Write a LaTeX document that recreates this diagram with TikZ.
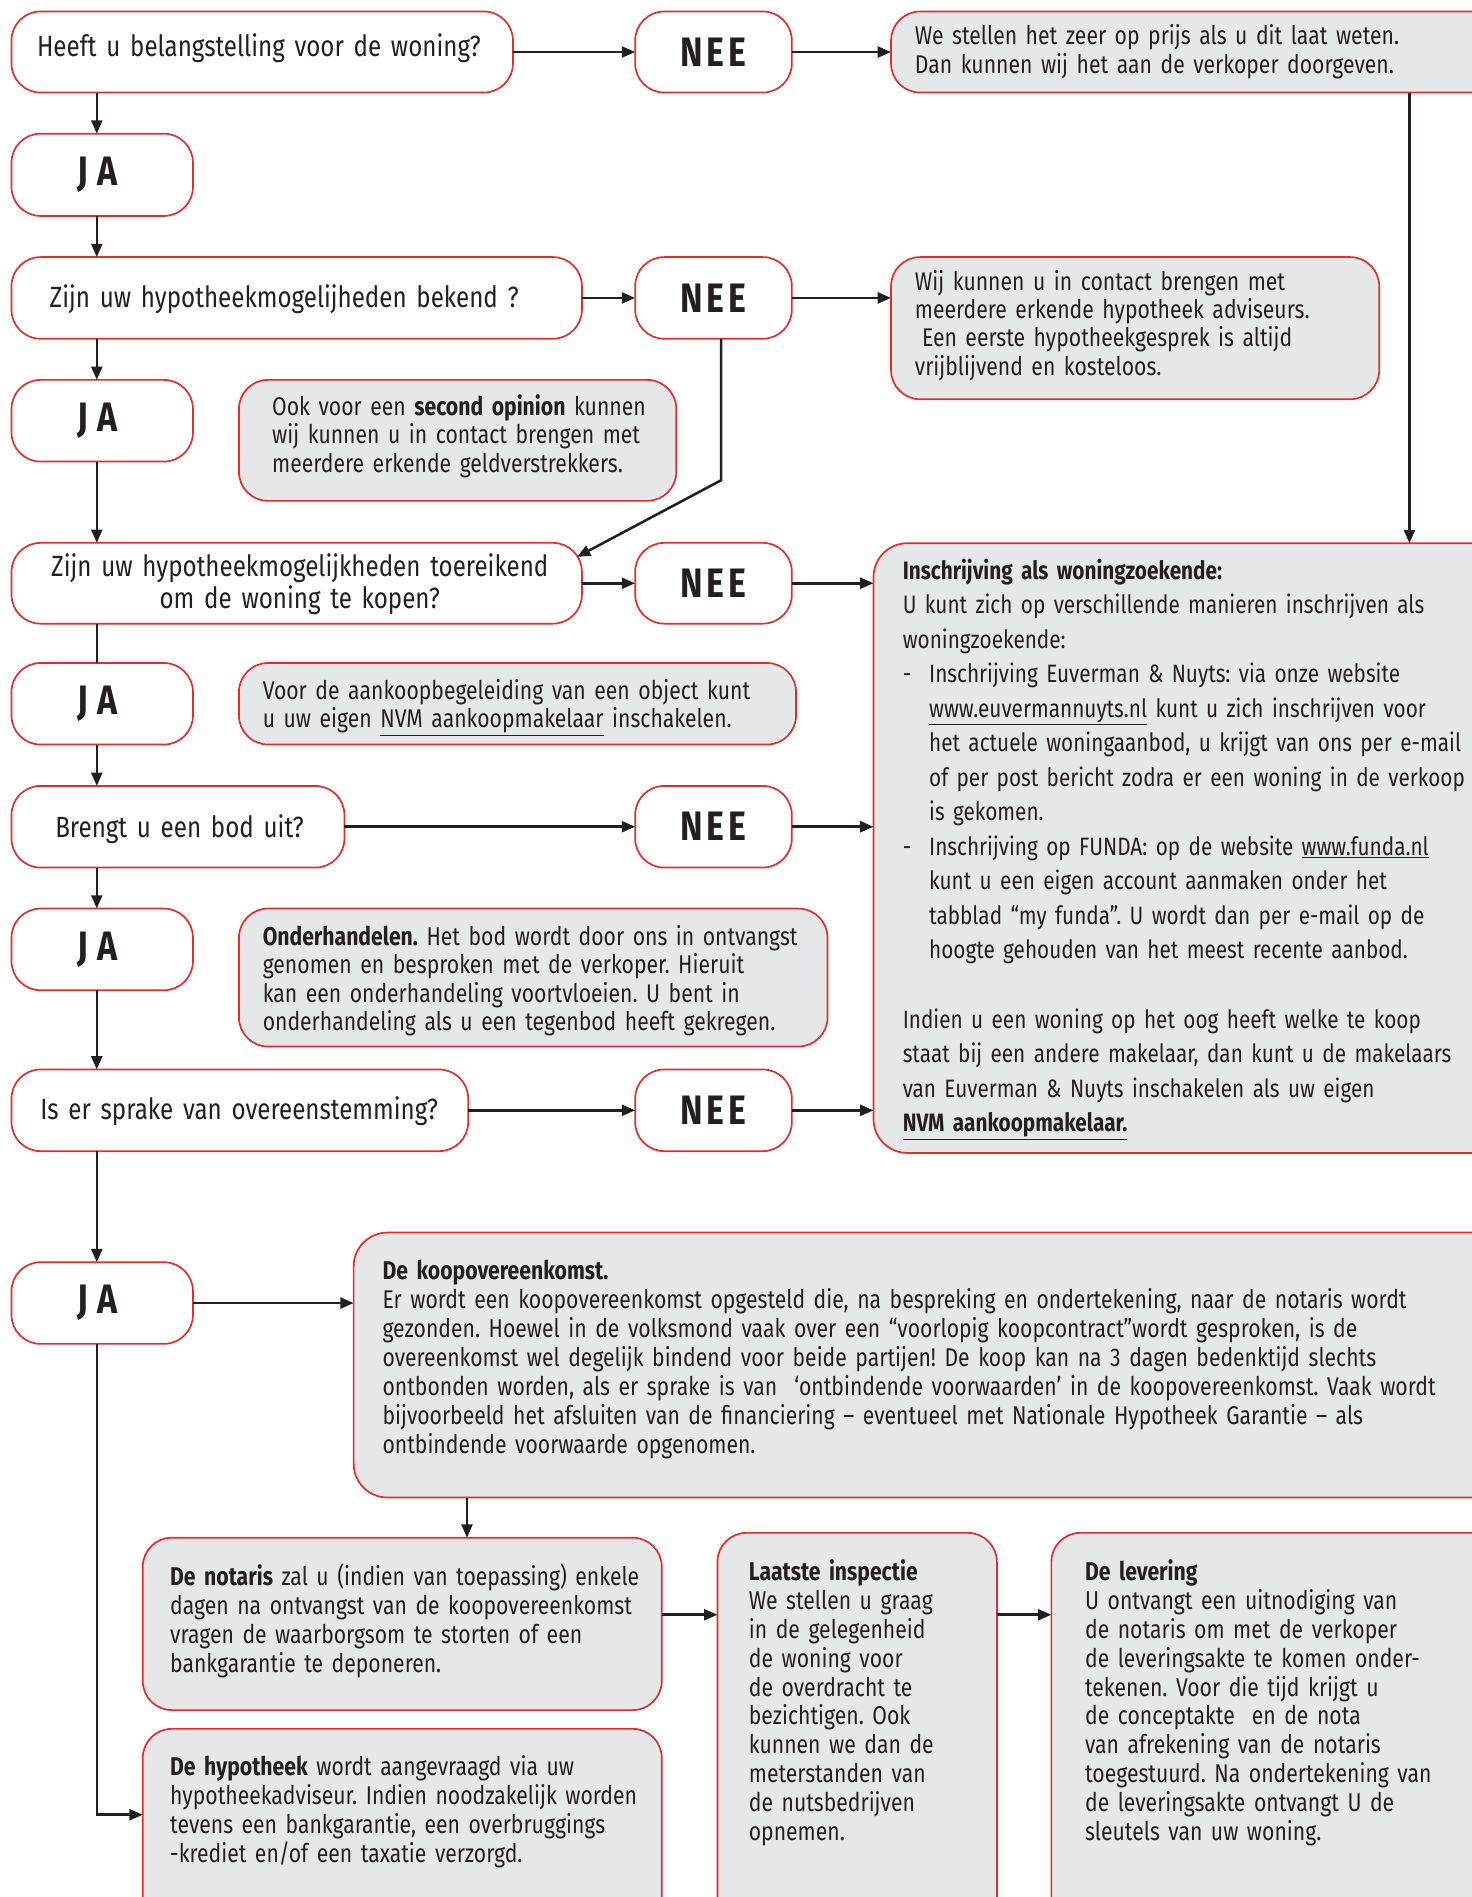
\documentclass[tikz,border=0pt]{standalone}
\usepackage{fontspec}
\setmainfont{Fira Sans}[FakeStretch=0.825]
\frenchspacing
\usetikzlibrary{arrows.meta}
\definecolor{rood}{HTML}{E42D2A}
\definecolor{grijs}{HTML}{E6E7E8}
\definecolor{ink}{HTML}{231F20}
\newcommand{\bodyfont}[1]{\fontsize{21.2}{#1}\selectfont\spaceskip=3.6pt plus 1pt minus 1pt\relax}
\newcommand{\insfont}{\fontsize{20.8}{28.55}\selectfont\spaceskip=3.4pt plus 1pt minus 1pt\relax}
\newcommand{\quesfont}{\fontsize{24.2}{26.2}\selectfont\spaceskip=4.3pt plus 1pt minus 1pt\relax}
\tikzset{
  box/.style={draw=rood, line width=1.4pt, rounded corners=24pt, anchor=north west, inner sep=0pt, outer sep=0pt},
  wbox/.style={box, fill=white},
  gbox/.style={box, fill=grijs},
  arr/.style={draw=ink, line width=2.1pt, -{Triangle[length=11pt,width=9pt]}},
  ln/.style={draw=ink, line width=2.1pt},
  body/.style={anchor=base west, inner sep=0pt, text width=1000pt, align=left, text=ink, font={\bodyfont{23.9}}},
  ques/.style={anchor=base west, inner sep=0pt, text width=1000pt, align=left, text=ink, font={\quesfont}},
  yn/.style={text=ink, font={\fontsize{34}{34}\selectfont\bfseries}, inner sep=0pt}
}
\newcommand{\NEEtxt}{N\kern3pt E\kern3pt E}
\newcommand{\JAtxt}{J\kern8pt A}
\begin{document}
\begin{tikzpicture}[x=1pt,y=-1pt]
\useasboundingbox (0,0) rectangle (1216.7,1568);
\clip (0,0) rectangle (1216.7,1568);
\coordinate (spine) at (80,0);
% ---------- boxes ----------
\node[wbox, minimum width=414.5, minimum height=67] (q1) at (9.5,9.5) {};
\node[wbox, minimum width=129.5, minimum height=67] (nee1) at (525,9.5) {};
\node[gbox, minimum width=520, minimum height=67] (i1) at (736.5,9.5) {};
\node[wbox, minimum width=150, minimum height=68] (ja1) at (9.5,110.5) {};
\node[wbox, minimum width=471.5, minimum height=67.5] (q2) at (9.5,212.5) {};
\node[wbox, minimum width=129.5, minimum height=67.5] (nee2) at (525,212.5) {};
\node[gbox, minimum width=403.5, minimum height=117.5] (i2) at (736.5,212.5) {};
\node[wbox, minimum width=150, minimum height=67.5] (ja2) at (9.5,314) {};
\node[gbox, minimum width=361.5, minimum height=100] (i3) at (197.5,314) {};
\node[wbox, minimum width=471.5, minimum height=66.8] (q3) at (9.5,448.7) {};
\node[wbox, minimum width=129.5, minimum height=66.8] (nee3) at (525,448.7) {};
\node[gbox, minimum width=540, minimum height=504, rounded corners=28pt] (ins) at (722,449) {};
\node[wbox, minimum width=150, minimum height=67.4] (ja3) at (9.5,548) {};
\node[gbox, minimum width=460.5, minimum height=67.4] (i4) at (197.5,548) {};
\node[wbox, minimum width=275.2, minimum height=67.5] (q4) at (9.5,649.6) {};
\node[wbox, minimum width=129.5, minimum height=67.5] (nee4) at (525,649.6) {};
\node[wbox, minimum width=150, minimum height=67.5] (ja4) at (9.5,751) {};
\node[gbox, minimum width=486.5, minimum height=114] (i5) at (197.5,751) {};
\node[wbox, minimum width=377.5, minimum height=67.5] (q5) at (9.5,884) {};
\node[wbox, minimum width=129.5, minimum height=67.5] (nee5) at (525,884) {};
\node[wbox, minimum width=150, minimum height=67.5] (ja5) at (9.5,1043.3) {};
\node[gbox, minimum width=970, minimum height=219, rounded corners=28pt] (koop) at (292.3,1018.8) {};
\node[gbox, minimum width=429, minimum height=142.5] (not) at (118,1271) {};
\node[gbox, minimum width=429, minimum height=200] (hyp) at (118,1429) {};
\node[gbox, minimum width=231, minimum height=330] (laat) at (593,1267) {};
\node[gbox, minimum width=400, minimum height=330] (lev) at (869,1267) {};
% ---------- yes / no labels ----------
\node[yn] (nee1t) at (nee1.center) {\NEEtxt};
\node[yn] (nee2t) at (nee2.center) {\NEEtxt};
\node[yn] (nee3t) at (nee3.center) {\NEEtxt};
\node[yn] (nee4t) at (nee4.center) {\NEEtxt};
\node[yn] (nee5t) at (nee5.center) {\NEEtxt};
\node[yn] (ja1t) at (ja1.center -| 80.7,0) {\JAtxt};
\node[yn] (ja2t) at (ja2.center -| 80.7,0) {\JAtxt};
\node[yn] (ja3t) at (ja3.center -| 80.7,0) {\JAtxt};
\node[yn] (ja4t) at (ja4.center -| 80.7,0) {\JAtxt};
\node[yn] (ja5t) at (ja5.center -| 80.7,0) {\JAtxt};
% ---------- question texts ----------
\node[ques] (q1t) at (30.4,46.3) {Heeft u belangstelling voor de woning?};
\node[ques] (q2t) at (40.9,254.4) {Zijn uw hypotheekmogelijheden bekend ?};
\node[ques, anchor=base, align=center, text width=500pt] (q3t) at (247.8,476.8) {Zijn uw hypotheekmogelijkheden toereikend\\om de woning te kopen?};
\node[ques] (q4t) at (45.5,692.6) {Brengt u een bod uit?};
\node[ques] (q5t) at (33.1,925.4) {Is er sprake van overeenstemming?};
% ---------- info texts ----------
\node[body] (i1t) at (756,36.7) {We stellen het zeer op prijs als u dit laat weten.\\Dan kunnen wij het aan de verkoper doorgeven.};
\node[body, font={\bodyfont{23.4}}] (i2t) at (756,239.8) {Wij kunnen u in contact brengen met\\meerdere erkende hypotheek adviseurs.\\\hspace*{6pt}Een eerste hypotheekgesprek is altijd\\vrijblijvend en kosteloos.};
\node[body, font={\bodyfont{23.7}}] (i3t) at (224.8,343.1) {Ook voor een \textbf{second opinion} kunnen\\wij kunnen u in contact brengen met\\meerdere erkende geldverstrekkers.};
\node[body, font={\bodyfont{23.4}}] (i4t) at (217,578.2) {Voor de aankoopbegeleiding van een object kunt\\u uw eigen \underline{NVM aankoopmakelaar} inschakelen.};
\node[body, font={\bodyfont{23.5}}] (i5t) at (217,781.3) {\textbf{Onderhandelen.} Het bod wordt door ons in ontvangst\\genomen en besproken met de verkoper. Hieruit\\kan een onderhandeling voortvloeien. U bent in\\onderhandeling als u een tegenbod heeft gekregen.};
\node[body, font={\insfont}] (inst) at (746,478.6) {\textbf{Inschrijving als woningzoekende:}\\
U kunt zich op verschillende manieren inschrijven als\\
woningzoekende:\\
\makebox[21.8pt][l]{-}Inschrijving Euverman \& Nuyts: via onze website\\
\hspace*{21.8pt}\underline{www.euvermannuyts.nl} kunt u zich inschrijven voor\\
\hspace*{21.8pt}het actuele woningaanbod, u krijgt van ons per e-mail\\
\hspace*{21.8pt}of per post bericht zodra er een woning in de verkoop\\
\hspace*{21.8pt}is gekomen.\\
\makebox[21.8pt][l]{-}Inschrijving op FUNDA: op de website \underline{www.funda.nl}\\
\hspace*{21.8pt}kunt u een eigen account aanmaken onder het\\
\hspace*{21.8pt}tabblad “my funda”. U wordt dan per e-mail op de\\
\hspace*{21.8pt}hoogte gehouden van het meest recente aanbod.\\
\mbox{}\\
Indien u een woning op het oog heeft welke te koop\\
staat bij een andere makelaar, dan kunt u de makelaars\\
van Euverman \& Nuyts inschakelen als uw eigen\\
\textbf{\underline{NVM aankoopmakelaar.}}};
\node[body] (koopt) at (316,1057.7) {\textbf{De koopovereenkomst.}\\
Er wordt een koopovereenkomst opgesteld die, na bespreking en ondertekening, naar de notaris wordt\\
gezonden. Hoewel in de volksmond vaak over een “voorlopig koopcontract”wordt gesproken, is de\\
overeenkomst wel degelijk bindend voor beide partijen! De koop kan na 3 dagen bedenktijd slechts\\
ontbonden worden, als er sprake is van\ \ ‘ontbindende voorwaarden’ in de koopovereenkomst. Vaak wordt\\
bijvoorbeeld het afsluiten van de financiering – eventueel met Nationale Hypotheek Garantie – als\\
ontbindende voorwaarde opgenomen.};
\node[body] (nott) at (140.5,1310.5) {\textbf{De notaris} zal u (indien van toepassing) enkele\\dagen na ontvangst van de koopovereenkomst\\vragen de waarborgsom te storten of een\\bankgarantie te deponeren.};
\node[body] (hypt) at (140.5,1467.6) {\textbf{De hypotheek} wordt aangevraagd via uw\\hypotheekadviseur. Indien noodzakelijk worden\\tevens een bankgarantie, een overbruggings\\-krediet en/of een taxatie verzorgd.};
\node[body] (laatt) at (618.8,1306.3) {\textbf{Laatste inspectie}\\We stellen u graag\\in de gelegenheid\\de woning voor\\de overdracht te\\bezichtigen. Ook\\kunnen we dan de\\meterstanden van\\de nutsbedrijven\\opnemen.};
\node[body] (levt) at (896.7,1306.3) {\textbf{De levering}\\U ontvangt een uitnodiging van\\de notaris om met de verkoper\\de leveringsakte te komen onder-\\tekenen. Voor die tijd krijgt u\\de conceptakte\ \ en de nota\\van afrekening van de notaris\\toegestuurd. Na ondertekening van\\de leveringsakte ontvangt U de\\sleutels van uw woning.};
% ---------- connectors ----------
\coordinate (downR) at (1165,0);
\coordinate (neeDown) at (596,0);
\coordinate (bend) at (596,397);
\coordinate (q3in) at (477,460.3);
\coordinate (kn) at (386,0);
\coordinate (hypin) at (118,1500);
\coordinate (nl) at (0,1334.7);
\draw[arr] (q1.east) -- (nee1.west);
\draw[arr] (nee1.east) -- (i1.west);
\draw[arr] (i1.south -| downR) -- (ins.north -| downR);
\draw[arr] (q1.south -| spine) -- (ja1.north -| spine);
\draw[arr] (ja1.south -| spine) -- (q2.north -| spine);
\draw[arr] (q2.east) -- (nee2.west);
\draw[arr] (nee2.east) -- (i2.west |- nee2.east);
\draw[arr] (nee2.south -| neeDown) -- (bend) -- (q3in);
\draw[arr] (q2.south -| spine) -- (ja2.north -| spine);
\draw[arr] (ja2.south -| spine) -- (q3.north -| spine);
\draw[arr] (q3.east) -- (nee3.west);
\draw[arr] (nee3.east) -- (ins.west |- nee3.east);
\draw[ln] (q3.south -| spine) -- (ja3.north -| spine);
\draw[arr] (ja3.south -| spine) -- (q4.north -| spine);
\draw[arr] (q4.east) -- (nee4.west);
\draw[arr] (nee4.east) -- (ins.west |- nee4.east);
\draw[arr] (q4.south -| spine) -- (ja4.north -| spine);
\draw[arr] (ja4.south -| spine) -- (q5.north -| spine);
\draw[arr] (q5.east) -- (nee5.west);
\draw[arr] (nee5.east) -- (ins.west |- nee5.east);
\draw[arr] (q5.south -| spine) -- (ja5.north -| spine);
\draw[arr] (ja5.east) -- (koop.west |- ja5.east);
\draw[arr] (koop.south -| kn) -- (not.north -| kn);
\draw[arr] (ja5.south -| spine) |- (hypin);
\draw[arr] (not.east |- nl) -- (laat.west |- nl);
\draw[arr] (laat.east |- nl) -- (lev.west |- nl);
\end{tikzpicture}
\end{document}
